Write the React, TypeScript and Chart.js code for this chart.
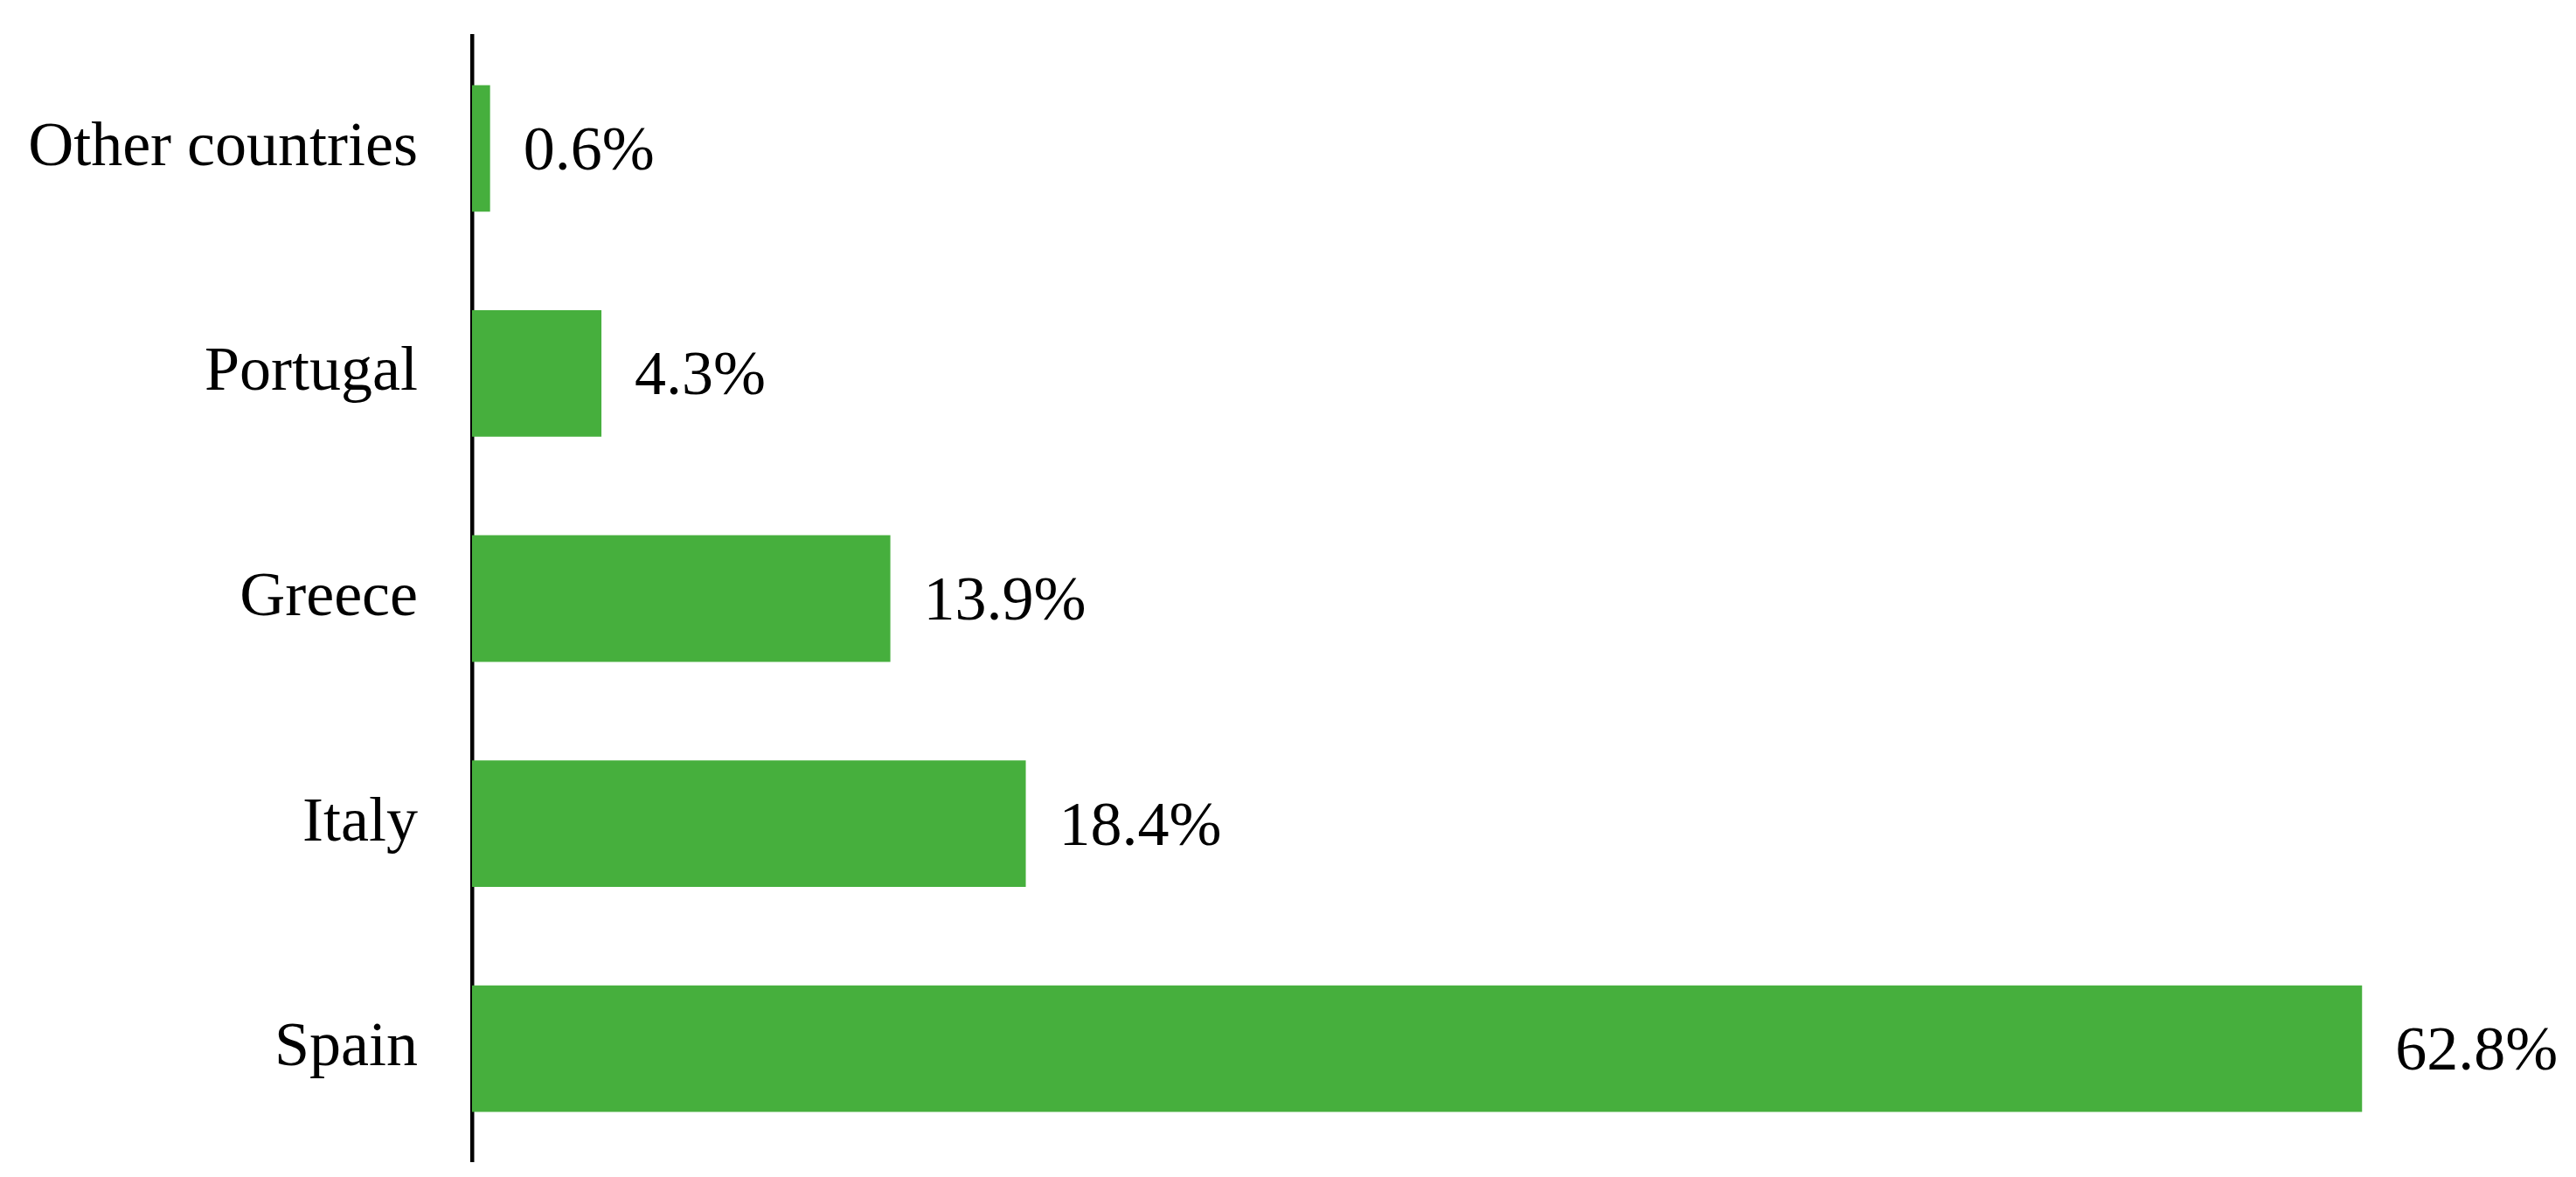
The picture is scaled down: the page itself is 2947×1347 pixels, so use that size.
import React, { useEffect, useRef } from "react";
import { Chart, registerables } from "chart.js";

Chart.register(...registerables);

const categories: string[] = ["Other countries", "Portugal", "Greece", "Italy", "Spain"];
const shares: number[] = [0.6, 4.3, 13.9, 18.4, 62.8];
const valueLabels: string[] = ["0.6%", "4.3%", "13.9%", "18.4%", "62.8%"];

const FONT = "'Liberation Serif', 'Times New Roman', serif";

const valueLabelPlugin = {
  id: "valueLabels",
  afterDatasetsDraw(chart: any) {
    const ctx = chart.ctx;
    const meta = chart.getDatasetMeta(0);
    ctx.save();
    ctx.font = `72px ${FONT}`;
    ctx.fillStyle = "#000000";
    ctx.textAlign = "left";
    ctx.textBaseline = "middle";
    meta.data.forEach((bar: any, i: number) => {
      ctx.fillText(valueLabels[i], bar.x + 38, bar.y + 5);
    });
    ctx.restore();
  },
};

export default function App() {
  const ref = useRef<HTMLCanvasElement | null>(null);

  useEffect(() => {
    document.body.style.margin = "0";
    const canvas = ref.current;
    if (!canvas) return;
    const chart = new Chart(canvas, {
      type: "bar",
      data: {
        labels: categories,
        datasets: [
          {
            data: shares,
            backgroundColor: "#46AF3D",
            borderWidth: 0,
            categoryPercentage: 1,
            barPercentage: 0.562,
          },
        ],
      },
      options: {
        indexAxis: "y",
        responsive: false,
        animation: false,
        devicePixelRatio: 1,
        layout: { padding: { top: 41, bottom: 18, left: 0, right: 169 } },
        plugins: {
          legend: { display: false },
          tooltip: { enabled: false },
          title: { display: false },
        },
        scales: {
          x: {
            display: false,
            min: 0,
            max: 65,
          },
          y: {
            grid: { display: false, drawTicks: false },
            border: { display: true, color: "#000000", width: 4.5 },
            ticks: {
              color: "#000000",
              font: { family: FONT, size: 72 },
              padding: 62,
            },
            afterFit: (scale: any) => {
              scale.width = 540;
              scale.paddingTop = 0;
              scale.paddingBottom = 0;
            },
          },
        },
      },
      plugins: [valueLabelPlugin],
    });
    return () => chart.destroy();
  }, []);

  return (
    <div style={{ width: 2947, height: 1347, background: "#ffffff" }}>
      <canvas ref={ref} width={2947} height={1347} style={{ display: "block" }} />
    </div>
  );
}
